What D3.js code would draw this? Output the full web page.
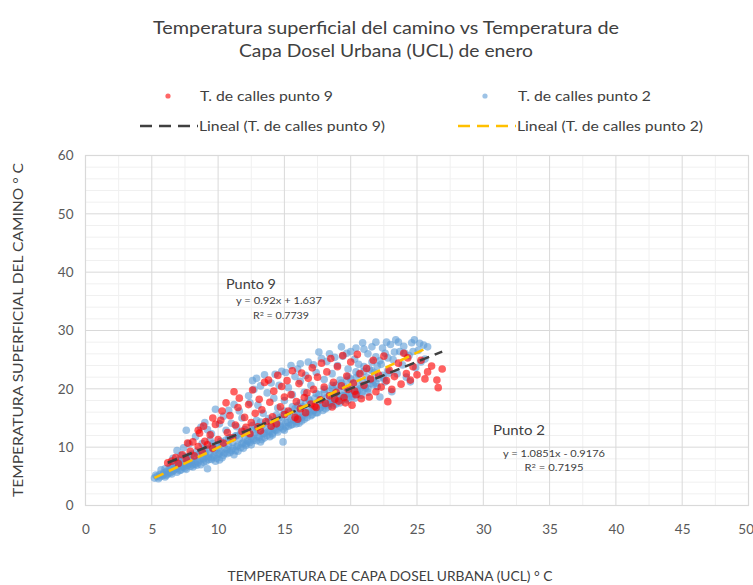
<!DOCTYPE html>
<html>
<head>
<meta charset="utf-8">
<script src="https://cdn.jsdelivr.net/npm/d3@7"></script>
<style>
  html, body { margin: 0; padding: 0; background: #fff; }
  svg { display: block; font-family: Lato, "Open Sans", "Liberation Sans", sans-serif; }
</style>
</head>
<body>
<svg id="chart" width="753" height="585"></svg>
<script>
// Temperatura del camino (y) frente a temperatura de la capa dosel urbana (x), enero.
const titleLines = ["Temperatura superficial del camino vs Temperatura de", "Capa Dosel Urbana (UCL) de enero"];
const seriesNames = ["T. de calles punto 9", "T. de calles punto 2"];
const trendNames = ["Lineal (T. de calles punto 9)", "Lineal (T. de calles punto 2)"];
const xTicks = [0, 5, 10, 15, 20, 25, 30, 35, 40, 45, 50];
const yTicks = [0, 10, 20, 30, 40, 50, 60];
const xTitle = "TEMPERATURA DE CAPA DOSEL URBANA (UCL) ° C";
const yTitle = "TEMPERATURA SUPERFICIAL DEL CAMINO ° C";

// Ajustes lineales (pendiente, intercepto, R²)
const trendSlopes = [0.92, 1.0851];
const trendIntercepts = [1.637, -0.9176];
const trendR2 = [0.7739, 0.7195];
const annotationTitles = ["Punto 9", "Punto 2"];

// Punto 2: [UCL °C, camino °C]
const punto2 = [
  [5.2,4.7],[5.4,5.0],[5.5,4.6],[5.6,5.3],[5.8,5.1],[5.9,5.6],[6.0,4.9],[6.1,5.8],[5.7,6.1],[6.2,5.4],
  [6.3,6.2],[6.4,5.6],[6.5,6.6],[6.6,5.9],[6.7,7.0],[6.8,6.3],[6.9,5.7],[7.0,6.8],[7.1,7.4],[7.2,6.1],
  [7.3,7.8],[7.4,6.6],[7.5,7.1],[7.6,6.2],[7.7,8.0],[7.8,7.3],[7.9,6.7],[8.0,7.6],[6.6,8.1],[7.2,8.6],
  [6.9,9.4],[7.4,9.9],[7.8,10.6],[7.6,12.9],[8.3,11.8],[8.7,13.4],[9.0,14.2],[9.8,16.5],[9.5,12.3],
  [8.1,7.0],[8.2,8.3],[8.3,7.5],[8.4,6.9],[8.5,8.7],[8.6,7.8],[8.7,9.2],[8.8,8.1],[8.9,7.4],[9.0,9.0],
  [9.1,8.4],[9.2,6.3],[9.2,9.6],[9.3,7.9],[9.4,8.9],[9.5,10.1],[9.6,8.2],[9.7,9.4],[9.8,7.6],[9.9,10.4],
  [10.0,8.8],[10.0,9.9],[8.8,10.6],[9.4,11.2],
  [10.1,7.8],[10.2,9.3],[10.3,10.6],[10.4,8.6],[10.5,9.8],[10.6,11.2],[10.7,8.9],[10.8,10.2],[10.9,11.6],
  [11.0,9.4],[11.1,10.8],[11.2,8.7],[11.3,11.9],[11.4,10.1],[11.5,9.3],[11.6,11.4],[11.7,12.4],[11.8,10.6],
  [11.9,9.8],[12.0,11.9],[12.0,13.0],[10.6,12.9],[11.0,14.1],[11.4,13.5],[10.4,15.3],[11.8,15.0],[11.2,17.3],
  [12.3,18.8],[12.6,21.4],
  [12.1,10.3],[12.2,11.1],[12.3,12.2],[12.4,10.8],[12.5,11.7],[12.6,12.9],[12.7,11.2],[12.8,12.5],[12.9,13.4],
  [13.0,11.9],[13.1,12.8],[13.2,10.9],[13.3,13.7],[13.4,12.3],[13.5,11.6],[13.6,13.1],[13.7,14.2],[13.8,12.7],
  [13.9,11.8],[14.0,13.6],[14.0,14.6],[12.9,14.6],[13.4,15.8],[13.0,17.2],[13.7,19.3],[14.0,21.0],[12.7,19.9],
  [13.5,22.4],
  [14.1,12.4],[14.2,13.2],[14.3,14.1],[14.4,12.9],[14.5,13.8],[14.6,15.0],[14.7,13.4],[14.8,14.5],[14.9,15.6],
  [15.0,12.9],[15.1,14.2],[15.2,15.3],[15.3,13.6],[15.4,16.0],[15.5,14.7],[15.6,13.9],[15.7,15.8],[15.8,16.6],
  [15.9,14.4],[16.0,15.4],[16.0,17.1],[14.5,16.7],[15.0,18.0],[15.3,20.2],[15.8,22.1],[14.8,23.0],[16.2,24.3],
  [15.6,19.0],[14.2,18.4],[14.9,10.9],
  [16.1,14.1],[16.2,16.0],[16.3,15.1],[16.4,16.9],[16.5,14.8],[16.6,17.5],[16.7,15.9],[16.8,16.6],[16.9,18.0],
  [17.0,15.4],[17.1,17.2],[17.2,16.3],[17.3,18.4],[17.4,15.9],[17.5,17.7],[17.6,19.0],[17.7,16.8],[17.8,18.2],
  [17.9,17.3],[18.0,19.3],[16.5,19.4],[17.0,20.6],[17.4,22.8],[16.8,24.6],[17.8,25.2],[18.0,21.6],[16.2,21.3],
  [18.1,16.6],[18.2,18.5],[18.3,17.4],[18.4,19.6],[18.5,18.0],[18.6,20.1],[18.7,17.2],[18.8,19.0],[18.9,20.6],
  [19.0,18.3],[19.1,19.8],[19.2,17.6],[19.3,21.0],[19.4,18.9],[19.5,20.3],[19.6,19.2],[19.7,21.4],[19.8,18.1],
  [19.9,20.0],[20.0,21.7],[18.6,22.6],[19.0,24.0],[19.4,25.6],[18.4,26.0],[19.8,23.4],[20.0,26.4],
  [20.1,19.1],[20.2,20.8],[20.3,18.4],[20.4,21.9],[20.5,19.7],[20.6,22.5],[20.7,20.6],[20.8,18.9],[20.9,21.2],
  [21.0,23.0],[21.1,20.1],[21.2,22.0],[21.3,19.4],[21.4,23.4],[21.5,21.5],[21.6,24.6],[21.7,20.7],[21.8,22.8],
  [21.9,25.5],[22.0,23.9],[20.6,24.2],[21.0,26.8],[21.6,27.2],[20.3,25.1],[22.0,20.4],
  [22.2,18.6],[22.3,24.2],[22.5,21.8],[22.6,26.1],[22.8,23.1],[23.0,27.6],[23.1,19.5],[23.2,25.0],[23.4,28.4],
  [23.5,22.6],[23.7,26.4],[23.9,24.1],[24.0,27.3],[24.2,22.0],[24.4,25.7],[24.6,27.9],[24.8,28.4],[24.9,23.6],
  [25.1,26.6],[25.3,24.6],[25.5,27.5],[25.8,27.2],[25.6,25.1],[24.5,21.2],[22.7,28.0],
  // banda densa inferior
  [5.3,5.2],[5.6,4.9],[5.9,5.3],[6.1,5.2],[6.3,5.7],[6.5,5.4],[6.7,6.1],[6.9,6.4],[7.1,6.0],[7.3,6.6],
  [7.5,6.4],[7.7,6.9],[7.9,7.2],[8.1,6.6],[8.3,7.1],[8.5,7.4],[8.7,7.0],[8.9,8.0],[9.1,7.6],[9.3,8.3],
  [9.5,7.9],[9.7,8.6],[9.9,8.1],[10.1,8.9],[10.3,8.2],[10.5,9.0],[10.7,9.6],[10.9,9.1],[11.1,9.8],[11.3,9.4],
  [11.5,10.3],[11.7,9.9],[11.9,10.8],[12.1,10.6],[12.3,11.0],[12.5,10.4],[12.7,11.5],[12.9,11.1],[13.1,11.7],
  [13.3,11.3],[13.5,12.4],[13.7,12.0],[13.9,12.6],[14.1,12.1],[14.3,13.0],[14.5,12.6],[14.7,13.6],[14.9,13.1],
  [15.1,13.5],[15.3,14.2],[15.5,13.8],[15.7,14.6],[15.9,14.0],[16.1,15.0],[16.3,14.5],[16.5,15.5],[16.7,15.1],
  [16.9,16.0],[17.1,15.6],[17.3,16.4],[17.5,15.9],[17.7,16.7],[17.9,16.3],[18.1,17.2],[18.3,16.9],[18.5,17.6],
  [18.7,17.9],[18.9,17.4],[19.1,18.3],[19.3,18.0],[19.5,18.8],[19.7,18.4],[19.9,19.2],[20.1,18.7],[20.3,19.5],
  [20.5,19.1],[20.7,20.0],[20.9,19.6],[21.1,20.4],[21.3,20.0],[21.5,20.9],[21.7,21.5],[21.9,21.0],[22.1,21.8],
  [22.4,22.3],[22.6,21.2],[22.9,22.7],
  [6.0,6.3],[6.4,6.9],[7.0,7.7],[7.6,8.4],[8.0,8.8],[8.4,9.3],[9.0,9.8],[9.6,10.6],[10.2,11.0],[10.8,11.5],
  [11.4,12.0],[12.0,12.6],[12.6,13.7],[13.2,14.3],[13.8,14.9],[14.4,15.5],[15.0,16.2],[15.6,16.9],[16.2,17.6],
  [16.8,18.3],[17.4,19.2],[18.0,19.9],[18.6,20.6],[19.2,21.5],[19.8,22.1],[20.4,22.9],[21.0,23.8],[21.6,23.1],
  [22.2,24.8],[22.8,25.3],[23.3,26.3],[24.1,26.1],[24.7,26.4],[25.2,27.8],
  [9.2,13.0],[10.1,14.0],[10.8,16.3],[11.6,16.2],[12.4,17.6],[12.9,21.8],[13.2,20.5],[14.3,22.5],[14.6,20.6],
  [15.1,22.8],[15.5,24.0],[16.0,23.4],[16.6,22.3],[17.2,24.1],[17.6,26.3],[18.2,24.7],[18.8,25.4],[19.3,27.2],
  [19.7,26.1],[20.4,27.0],[20.9,27.9],[21.3,26.0],[21.9,28.0],[22.4,27.0],[23.6,28.0]
];

// Punto 9: [UCL °C, camino °C]
const punto9 = [
  [6.2,7.3],[6.5,7.6],[6.8,8.2],[7.0,7.2],[7.3,8.7],[7.6,7.9],[7.9,9.3],[8.2,8.5],[8.5,10.1],[8.8,9.2],
  [8.1,10.9],[8.6,12.4],[9.0,11.0],[8.9,13.6],[7.7,10.7],[8.5,12.9],
  [9.2,10.4],[9.4,12.1],[9.6,9.8],[9.8,13.9],[10.0,11.3],[10.2,14.6],[10.4,10.7],[10.6,17.6],[10.7,12.5],
  [10.9,15.4],[11.1,11.6],[11.3,13.8],[11.5,16.8],[11.6,18.4],[11.8,12.7],[12.0,15.1],[10.3,16.2],[11.2,19.5],
  [9.6,15.0],
  [12.1,13.4],[12.3,17.3],[12.5,14.2],[12.6,19.8],[12.8,15.8],[13.0,13.5],[13.1,18.2],[13.3,16.4],[13.5,21.1],
  [13.6,14.4],[13.8,21.5],[13.9,17.7],[14.1,15.2],[14.2,19.6],[14.4,14.0],[14.5,22.3],[14.7,16.9],[14.8,20.4],
  [15.0,15.6],[15.0,18.6],[12.4,12.3],[13.2,12.8],[14.0,13.6],
  [15.2,21.4],[15.3,16.2],[15.5,19.0],[15.6,23.1],[15.8,15.1],[15.9,17.8],[16.1,20.9],[16.2,16.6],[16.3,22.7],
  [16.5,18.5],[16.6,15.9],[16.8,21.8],[17.0,17.4],[17.1,23.6],[17.2,19.9],[17.4,16.8],[17.5,22.0],[17.7,18.1],
  [17.8,24.4],[18.0,20.3],[16.0,14.8],[17.3,17.0],[16.7,19.3],
  [18.1,17.5],[18.2,22.9],[18.4,18.8],[18.5,25.2],[18.6,16.9],[18.7,21.1],[18.9,19.4],[19.0,23.8],[19.1,17.9],
  [19.3,20.5],[19.4,25.7],[19.5,18.5],[19.7,22.2],[19.8,19.9],[20.0,24.6],[20.1,17.2],[20.2,21.0],[20.4,19.0],
  [20.5,25.9],[20.7,22.6],[20.8,18.3],[21.0,20.6],[18.8,18.2],[19.6,17.6],[20.3,19.6],
  [21.2,23.5],[21.4,18.6],[21.5,21.7],[21.7,24.9],[21.9,19.5],[22.1,22.4],[22.3,20.3],[22.5,25.6],[22.7,21.4],
  [22.9,23.2],[23.1,19.9],[23.3,22.1],[23.6,24.4],[23.8,20.8],[24.0,26.1],[24.2,22.6],[24.5,21.5],[24.7,23.8],
  [25.0,22.4],[25.3,24.9],[25.6,21.7],[25.8,22.9],[26.1,23.9],[26.5,21.5],[26.6,20.2],[26.9,23.4],[22.8,17.8],
  [24.3,25.3]
];

const colors = { p9: "#FF0000", p2: "#5B9BD5", t9: "#404040", t2: "#FFC000", grid: "#d9d9d9", minor: "#f0f0f0", text: "#595959" };

const svg = d3.select("#chart");
const plot = { left: 85.5, right: 748.5, top: 155.5, bottom: 505.5 };

const x = d3.scaleLinear().domain([0, 50]).range([plot.left, plot.right]);
const y = d3.scaleLinear().domain([0, 60]).range([plot.bottom, plot.top]);

// Ajusta el ancho del texto al espacio reservado
function fit(sel, w) {
  sel.attr("textLength", w).attr("lengthAdjust", "spacingAndGlyphs");
  return sel;
}

// Título
titleLines.forEach((t, i) => {
  fit(svg.append("text")
    .attr("x", 386).attr("y", 34 + i * 22.5)
    .attr("text-anchor", "middle")
    .attr("font-size", 16.5).attr("fill", "#404040")
    .text(t), i === 0 ? 466 : 294);
});

// Cuadrícula secundaria
const g = svg.append("g");
g.selectAll(".vminor").data(d3.range(2.5, 50, 5)).join("line")
  .attr("x1", d => x(d)).attr("x2", d => x(d)).attr("y1", plot.top).attr("y2", plot.bottom)
  .attr("stroke", colors.minor).attr("stroke-width", 1);
g.selectAll(".hminor").data(d3.range(0, 60, 2).filter(v => v % 10 !== 0)).join("line")
  .attr("y1", d => y(d)).attr("y2", d => y(d)).attr("x1", plot.left).attr("x2", plot.right)
  .attr("stroke", colors.minor).attr("stroke-width", 1);

// Cuadrícula principal
g.append("g").selectAll("line").data(xTicks).join("line")
  .attr("x1", d => x(d)).attr("x2", d => x(d)).attr("y1", plot.top).attr("y2", plot.bottom)
  .attr("stroke", colors.grid).attr("stroke-width", 1);
g.append("g").selectAll("line").data(yTicks).join("line")
  .attr("y1", d => y(d)).attr("y2", d => y(d)).attr("x1", plot.left).attr("x2", plot.right)
  .attr("stroke", colors.grid).attr("stroke-width", 1);
g.append("rect")
  .attr("x", plot.left).attr("y", plot.top)
  .attr("width", plot.right - plot.left).attr("height", plot.bottom - plot.top)
  .attr("fill", "none").attr("stroke", colors.grid).attr("stroke-width", 1.2);

// Etiquetas de los ejes mediante d3.axis
const xAxis = svg.append("g").attr("transform", `translate(0,${plot.bottom})`)
  .call(d3.axisBottom(x).tickValues(xTicks).tickSize(0).tickPadding(19));
const yAxis = svg.append("g").attr("transform", `translate(${plot.left},0)`)
  .call(d3.axisLeft(y).tickValues(yTicks).tickSize(0).tickPadding(12));
[xAxis, yAxis].forEach(a => {
  a.select(".domain").remove();
  a.selectAll("text").attr("font-family", "Lato, 'Open Sans', sans-serif")
    .attr("font-size", 13.5).attr("fill", colors.text);
});
// la última etiqueta queda junto al borde del lienzo
xAxis.selectAll(".tick").filter(d => d === 50).select("text").attr("text-anchor", "end").attr("dx", 5);

// Títulos de los ejes
fit(svg.append("text")
  .attr("x", 390).attr("y", 581).attr("text-anchor", "middle")
  .attr("font-size", 12.5).attr("fill", "#404040").text(xTitle), 325);
fit(svg.append("text")
  .attr("transform", "translate(23,330) rotate(-90)").attr("text-anchor", "middle")
  .attr("font-size", 12.5).attr("fill", "#404040").text(yTitle), 334);

// Puntos
const pts = svg.append("g");
pts.append("g").selectAll("circle").data(punto2).join("circle")
  .attr("cx", d => x(d[0])).attr("cy", d => y(d[1])).attr("r", 3.8)
  .attr("fill", colors.p2).attr("fill-opacity", 0.6);
pts.append("g").selectAll("circle").data(punto9).join("circle")
  .attr("cx", d => x(d[0])).attr("cy", d => y(d[1])).attr("r", 3.8)
  .attr("fill", colors.p9).attr("fill-opacity", 0.62);

// Líneas de tendencia
const series = [punto9, punto2];
const trendColors = [colors.t9, colors.t2];
series.forEach((data, i) => {
  const [x0, x1] = d3.extent(data, d => d[0]);
  const f = v => trendSlopes[i] * v + trendIntercepts[i];
  svg.append("line")
    .attr("x1", x(x0)).attr("y1", y(f(x0)))
    .attr("x2", x(x1)).attr("y2", y(f(x1)))
    .attr("stroke", trendColors[i]).attr("stroke-width", 2.6)
    .attr("stroke-dasharray", "10,6");
});

// Ecuaciones
const fmtEq = i => `y = ${trendSlopes[i]}x ${trendIntercepts[i] < 0 ? "-" : "+"} ${Math.abs(trendIntercepts[i])}`;
const notes = [
  { tx: 226, ty: 289, ex: 279, ey: 304, rx: 281, ry: 319, tw: 50, ew: 86, rw: 56 },
  { tx: 493, ty: 435, ex: 554, ey: 457, rx: 554, ry: 471, tw: 52, ew: 102, rw: 59 }
];
notes.forEach((n, i) => {
  fit(svg.append("text").attr("x", n.tx).attr("y", n.ty)
    .attr("font-size", 13).attr("fill", "#404040").text(annotationTitles[i]), n.tw);
  fit(svg.append("text").attr("x", n.ex).attr("y", n.ey).attr("text-anchor", "middle")
    .attr("font-size", 9).attr("fill", "#404040").text(fmtEq(i)), n.ew);
  const r = svg.append("text").attr("x", n.rx).attr("y", n.ry).attr("text-anchor", "middle")
    .attr("font-size", 9).attr("fill", "#404040");
  r.append("tspan").text("R");
  r.append("tspan").attr("font-size", 6).attr("dy", -3).text("2");
  r.append("tspan").attr("dy", 3).text(` = ${trendR2[i]}`);
  fit(r, n.rw);
});

// Leyenda
const legend = svg.append("g");
const legendPos = [
  { mx: 168, my: 96, tx: 200, tw: 133 },
  { mx: 485, my: 96, tx: 518, tw: 133 }
];
const legendFill = [colors.p9, colors.p2];
legendPos.forEach((p, i) => {
  legend.append("circle").attr("cx", p.mx).attr("cy", p.my).attr("r", 2.6)
    .attr("fill", legendFill[i]).attr("fill-opacity", 0.6);
  fit(legend.append("text").attr("x", p.tx).attr("y", p.my + 4.5)
    .attr("font-size", 13).attr("fill", "#404040").text(seriesNames[i]), p.tw);
});
const trendLegendPos = [
  { lx0: 140, lx1: 198, ly: 126, tx: 199, tw: 186 },
  { lx0: 458, lx1: 516, ly: 126, tx: 517, tw: 186 }
];
trendLegendPos.forEach((p, i) => {
  legend.append("line").attr("x1", p.lx0).attr("x2", p.lx1).attr("y1", p.ly).attr("y2", p.ly)
    .attr("stroke", trendColors[i]).attr("stroke-width", 2.6).attr("stroke-dasharray", "12,7");
  fit(legend.append("text").attr("x", p.tx).attr("y", p.ly + 4.5)
    .attr("font-size", 13).attr("fill", "#404040").text(trendNames[i]), p.tw);
});
</script>
</body>
</html>
